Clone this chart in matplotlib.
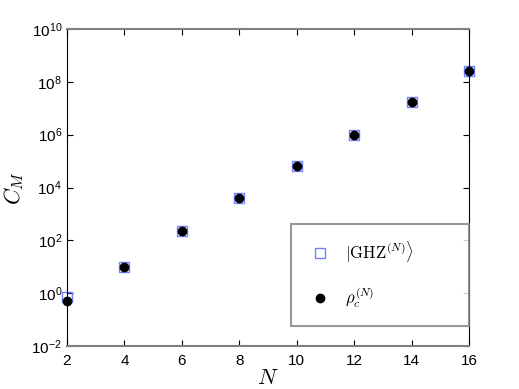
import math
import matplotlib
matplotlib.use('Agg')
import matplotlib.pyplot as plt
import matplotlib.ticker as mticker

plt.rcParams['font.family'] = ['Liberation Sans', 'DejaVu Sans']
plt.rcParams['mathtext.fontset'] = 'cm'

# data
N = [2, 4, 6, 8, 10, 12, 14, 16]
cm_ghz = [0.7, 9.6, 2.2e2, 4.0e3, 6.5e4, 1.0e6, 1.66e7, 2.6e8]
cm_rho = [0.49, 9.6, 2.2e2, 4.0e3, 6.5e4, 1.0e6, 1.66e7, 2.6e8]
x_ticks = [2, 4, 6, 8, 10, 12, 14, 16]
y_ticks = [1e-2, 1e0, 1e2, 1e4, 1e6, 1e8, 1e10]

fig = plt.figure(figsize=(5.19, 3.89), dpi=100)
ax = fig.add_axes([0.129, 0.1105, 0.7747, 0.8149])

ax.plot(N, cm_ghz, linestyle='none', marker='s', markersize=7.5,
        markerfacecolor='none', markeredgecolor='#7080ff', markeredgewidth=1.0,
        clip_on=False, label=r'$|\mathrm{GHZ}^{(N)}\rangle$')
ax.plot(N, cm_rho, linestyle='none', marker='o', markersize=6,
        color='black', clip_on=False, label=r'$\rho_c^{(N)}$')

ax.set_yscale('log')
ax.set_xlim(2, 16)
ax.set_ylim(1e-2, 1e10)
ax.set_xticks(x_ticks)
ax.set_yticks(y_ticks)
ax.yaxis.set_minor_locator(mticker.NullLocator())
ax.yaxis.set_major_formatter(mticker.FuncFormatter(
    lambda v, p: r'$\mathregular{10^{%d}}$' % round(math.log10(v))))

ax.tick_params(which='both', direction='in', top=True, right=True,
               length=4, labelsize=11, width=0.8)
ax.tick_params(axis='x', pad=6)

# matlab style frame: gray top/bottom, black left/right
for s in ['top', 'bottom']:
    ax.spines[s].set_color('#808080')
    ax.spines[s].set_linewidth(1.5)
for s in ['left', 'right']:
    ax.spines[s].set_color('black')
    ax.spines[s].set_linewidth(0.8)

ax.set_xlabel(r'$N$', fontsize=16, labelpad=0)
ax.set_ylabel(r'$C_M$', fontsize=16, labelpad=4)

leg = ax.legend(loc='lower right', bbox_to_anchor=(0.557, 0.063, 0.443, 0.322),
                mode='expand', fancybox=False, fontsize=12, labelspacing=1.2,
                borderpad=0.95, handlelength=1.6, handletextpad=0.7,
                borderaxespad=0)
leg.get_frame().set_edgecolor('#808080')
leg.get_frame().set_linewidth(1.5)

fig.savefig('out.png', dpi=100)
